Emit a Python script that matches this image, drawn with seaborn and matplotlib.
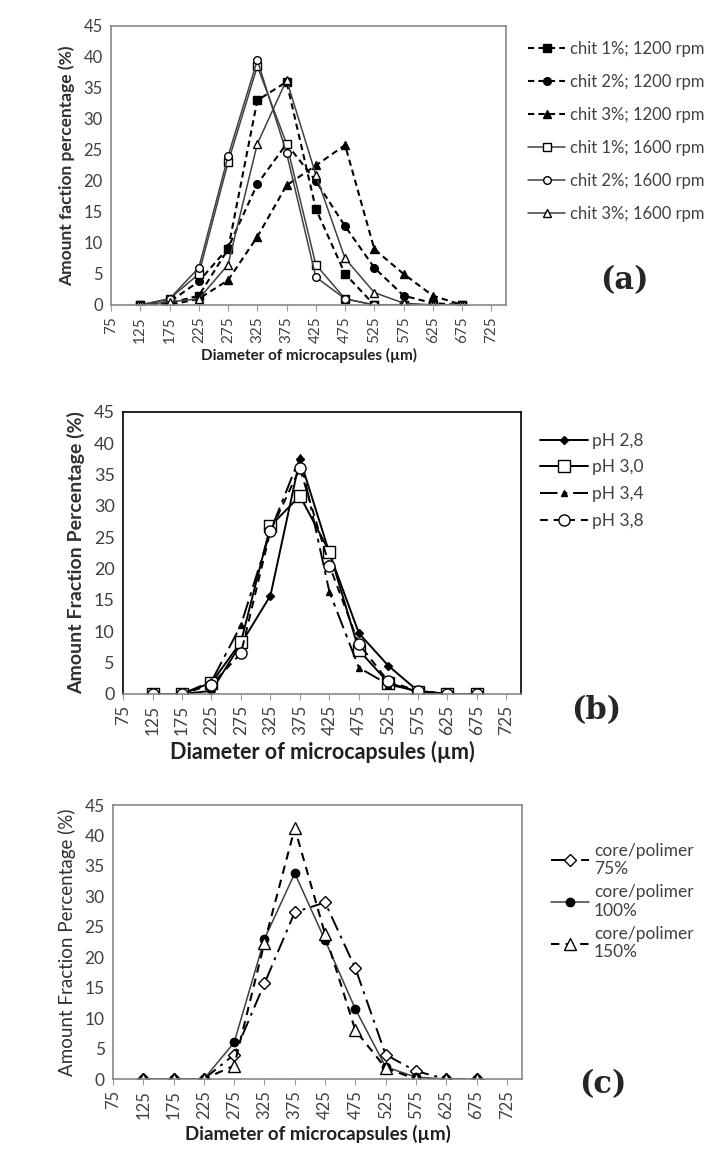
import pandas as pd
import matplotlib.pyplot as plt
import seaborn as sns

# diameter classes (µm)
diam = [125, 175, 225, 275, 325, 375, 425, 475, 525, 575, 625, 675]
xticks = list(range(75, 726, 50))

# (a) chitosan concentration / stirring speed
chit1_1200 = [0, 0.3, 1.5, 9.0, 33.0, 36.0, 15.5, 5.0, 0, 0, 0, 0]
chit2_1200 = [0, 0.5, 3.8, 9.2, 19.5, 26.0, 20.0, 12.7, 6.0, 1.5, 0.3, 0]
chit3_1200 = [0, 0, 1.0, 4.0, 11.0, 19.3, 22.5, 25.8, 9.0, 5.0, 1.5, 0]
chit1_1600 = [0, 1.0, 5.0, 23.0, 38.5, 26.0, 6.5, 1.0, 0, 0, 0, 0]
chit2_1600 = [0, 1.0, 6.0, 24.0, 39.5, 24.5, 4.5, 1.0, 0, 0, 0, 0]
chit3_1600 = [0, 0.5, 1.0, 6.5, 26.0, 36.3, 21.0, 7.5, 2.0, 0.3, 0, 0]

# (b) pH
ph28 = [0, 0, 0.5, 8.0, 15.7, 37.5, 22.5, 9.7, 4.5, 0.5, 0, 0]
ph30 = [0, 0, 1.8, 8.3, 26.8, 31.6, 22.7, 7.0, 1.8, 0.3, 0, 0]
ph34 = [0, 0, 2.0, 11.0, 26.0, 37.8, 16.3, 4.2, 1.5, 0.5, 0, 0]
ph38 = [0, 0, 1.5, 6.5, 26.0, 36.0, 20.5, 8.0, 2.0, 0.5, 0, 0]

# (c) core/polymer ratio
cp75 = [0, 0, 0, 4.0, 15.7, 27.4, 29.0, 18.2, 4.0, 1.3, 0, 0]
cp100 = [0, 0, 0, 6.0, 23.0, 33.8, 22.8, 11.5, 2.0, 0.3, 0, 0]
cp150 = [0, 0, 0, 2.2, 22.4, 41.2, 23.8, 8.0, 1.8, 0, 0, 0]

sns.set_style('white')
plt.rcParams['font.family'] = ['Lato', 'DejaVu Sans']
grey = '#404040'

fig = plt.figure(figsize=(7.28, 11.65), dpi=100)

def draw(ax, series, xlab, ylab, ylab_bold, spine_col, lab_size):
    for label, vals, ls, mk, ms, filled, col, lw in series:
        df = pd.DataFrame({'d': diam, 'v': vals})
        sns.lineplot(data=df, x='d', y='v', ax=ax, color=col, linestyle=ls, linewidth=lw,
                     marker=mk, markersize=ms,
                     markerfacecolor='black' if filled else 'white',
                     markeredgecolor='black', markeredgewidth=1.0,
                     label=label, errorbar=None)
    ax.set_xlim(75, 750)
    ax.set_ylim(0, 45)
    ax.set_xticks(xticks)
    ax.set_xticklabels([str(t) for t in xticks], rotation=90, fontsize=11, color=grey)
    ax.set_yticks(range(0, 46, 5))
    ax.tick_params(axis='y', labelsize=12, labelcolor=grey, length=0, pad=6)
    ax.tick_params(axis='x', length=4, color='#999999', direction='out', pad=4, bottom=True)
    ax.set_xlabel(xlab, fontsize=lab_size, fontweight='bold', color='#202020', labelpad=4)
    ax.set_ylabel(ylab, fontsize=lab_size, fontweight='bold' if ylab_bold else 'normal',
                  color='#303030', labelpad=6)
    for s in ax.spines.values():
        s.set_color(spine_col)
        s.set_linewidth(1.2)
    ax.spines['bottom'].set_color('#888888')
    ax.grid(False)

# ---- (a)
ax1 = fig.add_axes([0.1525, 0.7382, 0.5426, 0.2395])
sa = [
    ('chit 1%; 1200 rpm', chit1_1200, (0, (3, 2)), 's', 5.5, True, 'black', 1.5),
    ('chit 2%; 1200 rpm', chit2_1200, (0, (3, 2)), 'o', 5.5, True, 'black', 1.5),
    ('chit 3%; 1200 rpm', chit3_1200, (0, (3, 2)), '^', 5.5, True, 'black', 1.5),
    ('chit 1%; 1600 rpm', chit1_1600, '-', 's', 5.5, False, grey, 1.1),
    ('chit 2%; 1600 rpm', chit2_1600, '-', 'o', 5.5, False, grey, 1.1),
    ('chit 3%; 1600 rpm', chit3_1600, '-', '^', 5.5, False, grey, 1.1),
]
draw(ax1, sa, 'Diameter of microcapsules (µm)', 'Amount faction percentage (%)', True, '#888888', 11)
ax1.yaxis.label.set_size(12.5)
ax1.legend(loc='upper left', bbox_to_anchor=(0.705, 0.978), bbox_transform=fig.transFigure,
           frameon=False, fontsize=12, handlelength=2.2, labelspacing=1.02,
           handletextpad=0.3, labelcolor=grey)
fig.text(0.825, 0.752, '(a)', fontsize=22, fontweight='bold', family='DejaVu Serif')

# ---- (b)
ax2 = fig.add_axes([0.169, 0.4043, 0.5467, 0.2421])
sb = [
    ('pH 2,8', ph28, '-', 'D', 4.5, True, 'black', 1.4),
    ('pH 3,0', ph30, '-', 's', 9, False, 'black', 1.4),
    ('pH 3,4', ph34, (0, (9, 3, 2, 3)), '^', 5, True, 'black', 1.4),
    ('pH 3,8', ph38, (0, (4, 3)), 'o', 8, False, 'black', 1.4),
]
draw(ax2, sb, 'Diameter of microcapsules (µm)', 'Amount Fraction Percentage (%)', True, 'black', 14)
ax2.xaxis.label.set_size(15.5)
ax2.tick_params(axis='y', labelsize=13)
ax2.tick_params(axis='x', labelsize=12.5)
ax2.legend(loc='upper left', bbox_to_anchor=(0.72, 0.642), bbox_transform=fig.transFigure,
           frameon=False, fontsize=12.5, handlelength=2.8, labelspacing=0.62,
           handletextpad=0.2, labelcolor=grey)
fig.text(0.785, 0.383, '(b)', fontsize=22, fontweight='bold', family='DejaVu Serif')

# ---- (c)
ax3 = fig.add_axes([0.1552, 0.0738, 0.5618, 0.2352])
sc = [
    ('core/polimer\n75%', cp75, (0, (8, 3, 1.5, 3)), 'D', 6, False, 'black', 1.4),
    ('core/polimer\n100%', cp100, '-', 'o', 6, True, grey, 1.1),
    ('core/polimer\n150%', cp150, (0, (4, 3)), '^', 8, False, 'black', 1.5),
]
draw(ax3, sc, 'Diameter of microcapsules (µm)', 'Amount Fraction Percentage (%)', False, '#888888', 13.5)
ax3.tick_params(axis='y', labelsize=12.5)
ax3.tick_params(axis='x', labelsize=12)
ax3.legend(loc='upper left', bbox_to_anchor=(0.735, 0.29), bbox_transform=fig.transFigure,
           frameon=False, fontsize=12.5, handlelength=2.2, labelspacing=0.4,
           handletextpad=0.3, labelcolor=grey)
fig.text(0.795, 0.062, '(c)', fontsize=22, fontweight='bold', family='DejaVu Serif')

fig.savefig('out.png', dpi=100)
